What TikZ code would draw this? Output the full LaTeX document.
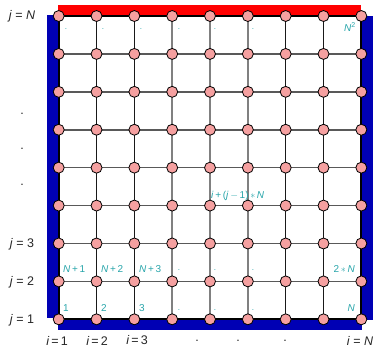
\documentclass[tikz,border=0pt]{standalone}
\usepackage{fontspec}
\setmainfont{Liberation Sans}
\begin{document}
\begin{tikzpicture}[x=1pt,y=-1pt,
  gridpt/.style={circle,draw=black,line width=0.8pt,fill=pinkfill,minimum size=11pt,inner sep=0pt},
  axlab/.style={font=\fontsize{12.5}{14}\selectfont,text=black!85,inner sep=0pt},
  celllab/.style={font=\fontsize{10}{11}\selectfont,text=tealtxt,inner sep=0pt},
  dotlab/.style={font=\fontsize{8}{9}\selectfont,text=tealtxt,inner sep=0pt},
  hline/.style={draw=black!65,line width=1.5pt},
  vdark/.style={draw=black!90,line width=1.5pt},
  vgray/.style={draw=black!50,line width=1.5pt},
  border/.style={draw=black,line width=2.2pt},
]
\definecolor{pinkfill}{RGB}{245,160,160}
\definecolor{tealtxt}{RGB}{40,165,170}
\definecolor{barblue}{RGB}{0,0,180}
\definecolor{barred}{RGB}{255,0,0}
\useasboundingbox (0,0) rectangle (378,348);
% boundary bars
\fill[barred] (58,5) rectangle (361,16);
\fill[barblue] (47,15) rectangle (58,318);
\fill[barblue] (58,319) rectangle (362,330);
\fill[barblue] (362,16) rectangle (373,320);
% grid coordinates
\foreach \i in {1,...,9}{
  \foreach \j in {1,...,9}{
    \coordinate (c-\i-\j) at ({58.7+37.83*(\i-1)},{319.3-37.91*(\j-1)});
  }
}
% horizontal lines
\foreach \j in {2,...,8}{
  \foreach \i [evaluate=\i as \k using int(\i+1)] in {1,...,8}{
    \draw[hline] (c-\i-\j) -- (c-\k-\j);
  }
}
% vertical lines
\foreach \i/\st in {2/vdark,3/vdark,4/vgray,5/vgray,6/vgray,7/vdark,8/vdark}{
  \foreach \j [evaluate=\j as \k using int(\j+1)] in {1,...,8}{
    \draw[\st] (c-\i-\j) -- (c-\i-\k);
  }
}
% border
\draw[border] (c-1-1) -- (c-9-1) -- (c-9-9) -- (c-1-9) -- cycle;
% nodes
\foreach \i in {1,...,9}{
  \foreach \j in {1,...,9}{
    \node[gridpt] (n-\i-\j) at (c-\i-\j) {};
  }
}
% axis labels left
\node[axlab] (jN) at (22,16) {\textit{j}\;=\;\textit{N}};
\node[axlab] (j3) at (22,244) {\textit{j}\;=\;3};
\node[axlab] (j2) at (22,282) {\textit{j}\;=\;2};
\node[axlab] (j1) at (22,320) {\textit{j}\;=\;1};
\node[axlab] (ld1) at (22,114) {.};
\node[axlab] (ld2) at (22,149) {.};
\node[axlab] (ld3) at (22,185) {.};
% axis labels bottom
\node[axlab] (i1) at (57,340.5) {\textit{i}\,=\,1};
\node[axlab] (i2) at (97,340.5) {\textit{i}\,=\,2};
\node[axlab] (i3) at (137,340.5) {\textit{i}\,=\,3};
\node[axlab] (bd1) at (197,341) {.};
\node[axlab] (bd2) at (238,341) {.};
\node[axlab] (bd3) at (285,341) {.};
\node[axlab] (iN) at (360,340.5) {\textit{i}\;=\;\textit{N}};
% cell labels
\node[celllab,anchor=west] (l1) at (63,308) {1};
\node[celllab,anchor=west] (l2) at (101,308) {2};
\node[celllab,anchor=west] (l3) at (139,308) {3};
\node[celllab,anchor=east] (lN) at (355,308) {\textit{N}};
\node[celllab,anchor=west] (lN1) at (63,269) {\textit{N}\,+\,1};
\node[celllab,anchor=west] (lN2) at (101,269) {\textit{N}\,+\,2};
\node[celllab,anchor=west] (lN3) at (139,269) {\textit{N}\,+\,3};
\node[celllab,anchor=east] (l2N) at (355,269) {2\,$\ast$\,\textit{N}};
\node[celllab,anchor=east] (lN2b) at (356,27) {\textit{N}\textsuperscript{2}};
\node[celllab,anchor=west] (lij) at (211,196) {\textit{i}\,+\,(\textit{j}\,$-$\,1)\,$\ast$\,\textit{N}};
% small dots in cells
\foreach \x in {66,103,141,179,215,253}{
  \node[dotlab] at (\x,29) {.};
}
\foreach \x in {179,215,253}{
  \node[dotlab] at (\x,310) {.};
  \node[dotlab] at (\x,270) {.};
}
\end{tikzpicture}
\end{document}
